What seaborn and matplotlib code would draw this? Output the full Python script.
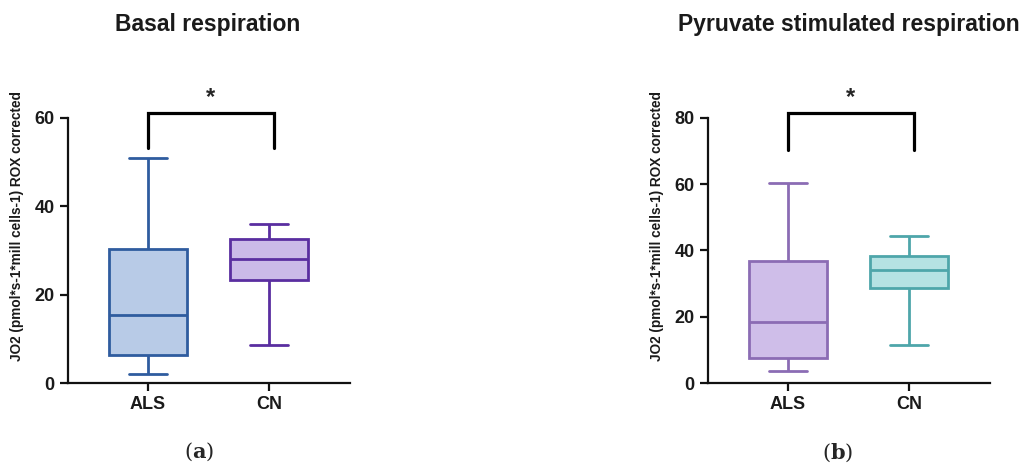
import seaborn as sns
import matplotlib.pyplot as plt
import pandas as pd

# groups and five-number summaries (min, Q1, median, Q3, max)
groups = ["ALS", "CN"]
basal_als = [2.1, 6.4, 15.4, 30.3, 51.0]
basal_cn = [8.5, 23.3, 28.1, 32.5, 36.0]
pyr_als = [3.7, 7.4, 18.5, 36.7, 60.3]
pyr_cn = [11.4, 28.8, 34.0, 38.2, 44.5]

titles = ["Basal respiration", "Pyruvate stimulated respiration"]
panel_tags = ["a", "b"]
ylabel = "JO2 (pmol*s-1*mill cells-1) ROX corrected"
yticks_list = [[0, 20, 40, 60], [0, 20, 40, 60, 80]]

basal_fill = ["#b8cbe7", "#cbbae8"]
basal_edge = ["#2f5c9f", "#5a2ea0"]
pyr_fill = ["#cfbee9", "#b5e2e3"]
pyr_edge = ["#8b6cb4", "#4ea6aa"]

sns.set_style("ticks")
plt.rcParams['font.family'] = ['Liberation Sans', 'DejaVu Sans']
plt.rcParams['mathtext.fontset'] = 'dejavuserif'

fig = plt.figure(figsize=(10.24, 4.65), dpi=100)
ax1 = fig.add_axes([68 / 1024, 1 - 383 / 465, 282 / 1024, 265 / 465])
ax2 = fig.add_axes([708 / 1024, 1 - 383 / 465, 282 / 1024, 265 / 465])

panels = [
    (ax1, [basal_als, basal_cn], basal_fill, basal_edge, 60, 61.1, 53.2),
    (ax2, [pyr_als, pyr_cn], pyr_fill, pyr_edge, 80, 81.5, 70.3),
]

for i, (ax, vals, fills, edges, ymax, btop, bleg) in enumerate(panels):
    for g, v, fc, ec in zip(groups, vals, fills, edges):
        df = pd.DataFrame({"group": [g] * len(v), "value": v})
        sns.boxplot(data=df, x="group", y="value", order=groups, ax=ax,
                    color=fc, saturation=1, linecolor=ec, linewidth=2.0,
                    width=0.64, whis=(0, 100))
    ax.set_xlim(-0.66, 1.67)
    ax.set_ylim(0, ymax)
    ax.set_yticks(yticks_list[i])
    ax.set_xlabel("")
    ax.set_ylabel("")
    sns.despine(ax=ax)
    for s in ["left", "bottom"]:
        ax.spines[s].set_linewidth(1.6)
        ax.spines[s].set_color("#111111")
    ax.tick_params(axis="both", width=1.6, length=6, color="#111111",
                   labelsize=13)
    for lab in ax.get_xticklabels() + ax.get_yticklabels():
        lab.set_fontweight("bold")
        lab.set_color("#1a1a1a")

    # significance bracket
    ax.plot([0, 0, 1.04, 1.04], [bleg, btop, btop, bleg], color="black",
            lw=2.3, clip_on=False, solid_joinstyle="miter")
    ax.text(0.52, btop + ymax * 0.015, "*", ha="center", va="bottom",
            fontsize=17, fontweight="bold", clip_on=False)

    xoff = 0 if i == 0 else 640
    fig.text((17 + xoff) / 1024, 1 - 226 / 465, ylabel, rotation=90,
             ha="center", va="center", fontsize=9.8, fontweight="bold",
             color="#1a1a1a")

fig.text(208 / 1024, 1 - 24 / 465, titles[0], ha="center", va="center",
         fontsize=16.5, fontweight="bold", color="#1a1a1a")
fig.text(849 / 1024, 1 - 24 / 465, titles[1], ha="center", va="center",
         fontsize=16.5, fontweight="bold", color="#1a1a1a")
fig.text(199 / 1024, 1 - 452 / 465, r"($\mathbf{%s}$)" % panel_tags[0],
         ha="center", va="center", fontsize=15, family=["DejaVu Serif"])
fig.text(838 / 1024, 1 - 453 / 465, r"($\mathbf{%s}$)" % panel_tags[1],
         ha="center", va="center", fontsize=15, family=["DejaVu Serif"])

fig.savefig("out.png", dpi=100)
